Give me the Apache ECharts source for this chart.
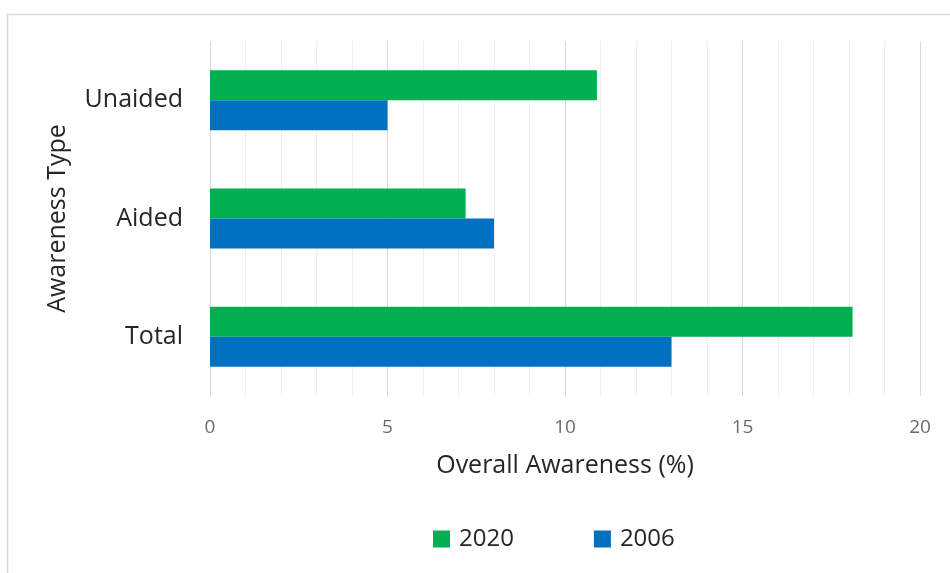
<!DOCTYPE html>
<html>
<head>
<meta charset="utf-8">
<script src="https://cdn.jsdelivr.net/npm/echarts@6/dist/echarts.min.js"></script>
<style>
html,body{margin:0;padding:0;background:#fff;}
#chart{width:950px;height:573px;}
</style>
</head>
<body>
<div id="chart"></div>
<script>
var categories = ['Total', 'Aided', 'Unaided'];
var values2020 = [18.1, 7.2, 10.9];
var values2006 = [13.0, 8.0, 5.0];
var seriesNames = ['2020', '2006'];
var xTicks = [0, 5, 10, 15, 20];

var FONT = '"Open Sans", "Noto Sans", sans-serif';
var chart = echarts.init(document.getElementById('chart'), null, {renderer: 'canvas'});
chart.setOption({
  backgroundColor: '#ffffff',
  animation: false,
  graphic: [{
    type: 'rect', left: 5, top: 12, silent: true,
    shape: {width: 1100, height: 1100},
    style: {fill: 'none', stroke: '#d9d9d9', lineWidth: 1.5}
  }],
  grid: {left: 210, right: 30, top: 41, height: 355, containLabel: false},
  legend: {
    data: seriesNames,
    left: 428, top: 522,
    itemWidth: 17, itemHeight: 17, itemGap: 80,
    icon: 'rect',
    textStyle: {fontFamily: FONT, fontSize: 24, color: '#262626', padding: [0, 0, 0, 4]}
  },
  xAxis: {
    type: 'value',
    min: xTicks[0], max: xTicks[xTicks.length - 1], interval: 5,
    name: 'Overall Awareness (%)',
    nameLocation: 'middle', nameGap: 57,
    nameTextStyle: {fontFamily: FONT, fontSize: 25, color: '#262626'},
    axisLine: {show: false},
    axisTick: {show: false},
    axisLabel: {fontFamily: FONT, fontSize: 19, color: '#6b6b6b', margin: 22},
    splitLine: {show: true, lineStyle: {color: '#d9d9d9', width: 1}},
    minorTick: {show: false, splitNumber: 5},
    minorSplitLine: {show: true, lineStyle: {color: '#efefef', width: 1}}
  },
  yAxis: {
    type: 'category',
    data: categories,
    name: 'Awareness Type',
    nameLocation: 'middle', nameGap: 140, nameRotate: 90,
    nameTextStyle: {fontFamily: FONT, fontSize: 25, color: '#262626'},
    axisLine: {show: false},
    axisTick: {show: false},
    axisLabel: {fontFamily: FONT, fontSize: 25, color: '#262626', margin: 27},
    splitLine: {show: false}
  },
  series: [
    {
      name: '2020', type: 'bar', data: values2020,
      barWidth: 30, barGap: '0%',
      itemStyle: {color: '#00B050'}
    },
    {
      name: '2006', type: 'bar', data: values2006,
      barWidth: 30, barGap: '0%',
      itemStyle: {color: '#0070C0'}
    }
  ]
});
</script>
</body>
</html>
